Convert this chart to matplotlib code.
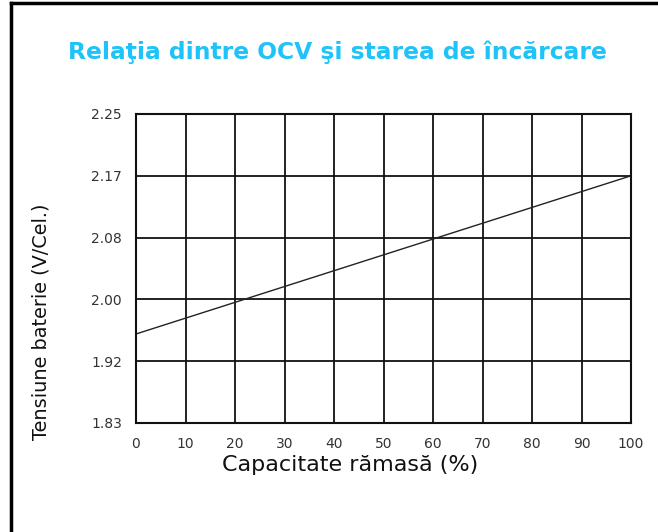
import numpy as np
import matplotlib
matplotlib.use("Agg")
import matplotlib.pyplot as plt
from matplotlib.lines import Line2D

# ---- data ----
capacity = [0, 100]                 # % remaining capacity
voltage = [1.951, 2.166]            # V per cell (OCV)
x_ticks = [0, 10, 20, 30, 40, 50, 60, 70, 80, 90, 100]
y_tick_labels = ["1.83", "1.92", "2.00", "2.08", "2.17", "2.25"]
y_min, y_max = 1.83, 2.25

title = "Relaţia dintre OCV şi starea de încărcare"
xlabel = "Capacitate rămasă (%)"
ylabel = "Tensiune baterie (V/Cel.)"

W, H = 658, 532
fig = plt.figure(figsize=(W / 100, H / 100), dpi=100)
fig.patch.set_facecolor("white")

ax = fig.add_axes([136 / W, 1 - 423 / H, (631 - 136) / W, (423 - 114) / H])
ax.plot(capacity, voltage, color="#222222", lw=1.0)

ax.set_xlim(0, 100)
ax.set_ylim(y_min, y_max)
ax.set_xticks(x_ticks)
ax.set_xticklabels([str(v) for v in x_ticks])
y_pos = np.linspace(y_min, y_max, len(y_tick_labels))
ax.set_yticks(y_pos)
ax.set_yticklabels(y_tick_labels)
ax.grid(True, color="#111111", lw=1.3)
ax.set_axisbelow(True)
for s in ax.spines.values():
    s.set_color("#111111")
    s.set_linewidth(1.5)
ax.tick_params(axis="both", length=0, labelsize=10, colors="#333333")
ax.tick_params(axis="y", pad=10)
ax.tick_params(axis="x", pad=10)

fig.text(350 / W, 1 - 465 / H, xlabel, ha="center", va="center",
         fontsize=16, color="#111111")
fig.text(41 / W, 1 - 322 / H, ylabel, ha="center", va="center",
         rotation=90, fontsize=13.9, color="#111111")

fig.text(337 / W, 1 - 52 / H, title, ha="center", va="center",
         fontsize=16.8, fontweight="bold", color="#1EC3FA")

# page frame (left and top lines)
fig.add_artist(Line2D([11 / W, 11 / W], [0, 1 - 3 / H], transform=fig.transFigure,
                      color="black", lw=2.5))
fig.add_artist(Line2D([11 / W, 1], [1 - 3 / H, 1 - 3 / H], transform=fig.transFigure,
                      color="black", lw=2.5))

fig.savefig("out.png", dpi=100, facecolor="white")
